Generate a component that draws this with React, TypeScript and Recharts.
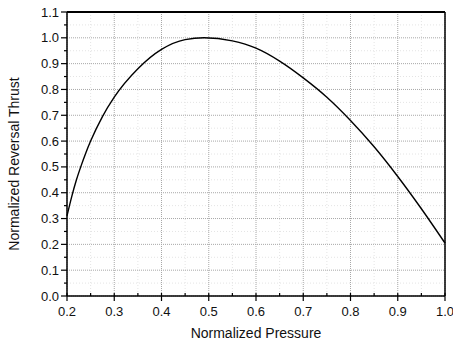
import React from 'react';
import { LineChart, Line, XAxis, YAxis, CartesianGrid, ReferenceLine } from 'recharts';

const pressure = [0.2, 0.21, 0.22, 0.23, 0.24, 0.25, 0.275, 0.3, 0.35, 0.4, 0.45, 0.49, 0.55, 0.6, 0.65, 0.7, 0.75, 0.8, 0.85, 0.9, 0.95, 1.0];
const thrust = [0.31, 0.385, 0.45, 0.505, 0.555, 0.6, 0.695, 0.77, 0.88, 0.955, 0.993, 1.0, 0.988, 0.96, 0.91, 0.845, 0.77, 0.68, 0.578, 0.463, 0.338, 0.205];

const xMajorTicks = [0.2, 0.3, 0.4, 0.5, 0.6, 0.7, 0.8, 0.9, 1.0];
const xMinorTicks = [0.25, 0.35, 0.45, 0.55, 0.65, 0.75, 0.85, 0.95];
const yMajorTicks = [0.0, 0.1, 0.2, 0.3, 0.4, 0.5, 0.6, 0.7, 0.8, 0.9, 1.0, 1.1];
const yMinorTicks = [0.05, 0.15, 0.25, 0.35, 0.45, 0.55, 0.65, 0.75, 0.85, 0.95, 1.05];

const xLabel = 'Normalized Pressure';
const yLabel = 'Normalized Reversal Thrust';

const data = pressure.map((p, i) => ({ p, t: thrust[i] }));
const allX = [...xMajorTicks, ...xMinorTicks].sort((a, b) => a - b);
const allY = [...yMajorTicks, ...yMinorTicks].sort((a, b) => a - b);

const FONT = '"Liberation Sans", Arial, sans-serif';
const isMajor = (v: number) => Math.round(v * 100) % 10 === 0;

const XTick = (props: any) => {
  const { x, y, payload } = props;
  const major = isMajor(payload.value);
  return (
    <g>
      <line x1={x} x2={x} y1={major ? y - 3 : y - 3} y2={major ? y + 5 : y} stroke="#000" strokeWidth={1.2} />
      {major && (
        <text x={x} y={y + 20} textAnchor="middle" fontSize={13} fontFamily={FONT} fill="#111">
          {Number(payload.value).toFixed(1)}
        </text>
      )}
    </g>
  );
};

const YTick = (props: any) => {
  const { x, y, payload } = props;
  const major = isMajor(payload.value);
  return (
    <g>
      <line x1={x} x2={x - (major ? 6 : 3)} y1={y} y2={y} stroke="#000" strokeWidth={1.2} />
      {major && (
        <text x={x - 8} y={y + 4.5} textAnchor="end" fontSize={13} fontFamily={FONT} fill="#111">
          {Number(payload.value).toFixed(1)}
        </text>
      )}
    </g>
  );
};

export default function App() {
  return (
    <div style={{ position: 'absolute', left: 0, top: 0, background: '#fff' }}>
      <LineChart width={453} height={346} data={data} margin={{ top: 12, right: 8, left: 0, bottom: 0 }}>
        <CartesianGrid
          verticalValues={xMinorTicks}
          horizontalValues={yMinorTicks}
          stroke="#e4e4e4"
          strokeDasharray="1 2"
        />
        <CartesianGrid
          verticalValues={xMajorTicks}
          horizontalValues={yMajorTicks}
          stroke="#a8a8a8"
          strokeDasharray="1 1"
        />
        <XAxis
          dataKey="p"
          type="number"
          domain={[0.2, 1.0]}
          ticks={allX}
          interval={0}
          tickSize={0}
          tickMargin={0}
          tick={<XTick />}
          height={50}
          axisLine={{ stroke: '#000', strokeWidth: 1.5 }}
          label={{
            content: (p: any) => {
              const vb = p.viewBox;
              return (
                <text x={vb.x + vb.width / 2} y={vb.y + 42} textAnchor="middle" fontSize={14} fontFamily={FONT} fill="#111">
                  {xLabel}
                </text>
              );
            },
          }}
        />
        <YAxis
          type="number"
          domain={[0, 1.1]}
          ticks={allY}
          interval={0}
          tickSize={0}
          tickMargin={0}
          tick={<YTick />}
          width={67}
          axisLine={{ stroke: '#000', strokeWidth: 1.5 }}
          label={{
            content: (p: any) => {
              const vb = p.viewBox;
              const cx = 19;
              const cy = vb.y + vb.height / 2 + 10;
              return (
                <text x={cx} y={cy} textAnchor="middle" fontSize={14} fontFamily={FONT} fill="#111" transform={`rotate(-90 ${cx} ${cy})`}>
                  {yLabel}
                </text>
              );
            },
          }}
        />
        <ReferenceLine y={1.1} stroke="#000" strokeWidth={2} />
        <ReferenceLine x={1.0} stroke="#000" strokeWidth={1.5} />
        <Line
          type="monotone"
          dataKey="t"
          stroke="#000"
          strokeWidth={1.4}
          dot={false}
          isAnimationActive={false}
        />
      </LineChart>
    </div>
  );
}
